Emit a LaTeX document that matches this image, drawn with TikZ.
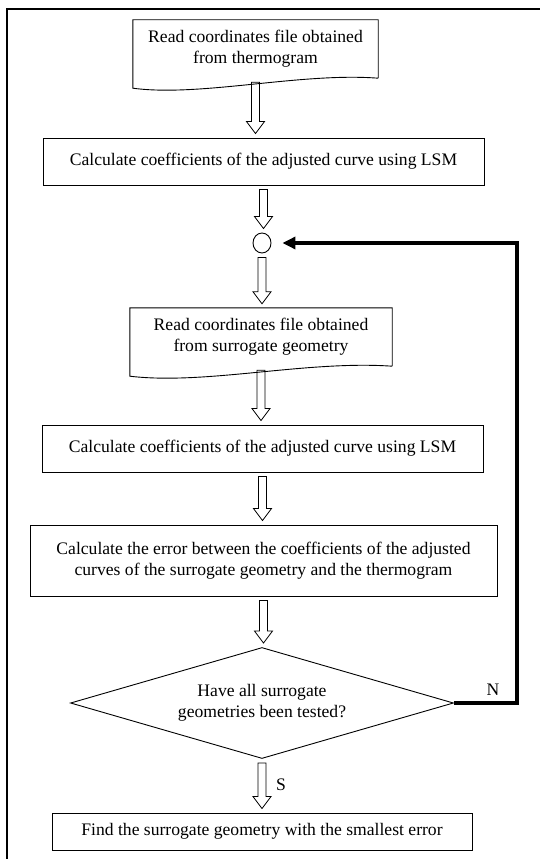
\documentclass[tikz,border=0pt]{standalone}
\usepackage{fontspec}
\setmainfont{Liberation Serif}
\usetikzlibrary{calc, shapes.geometric, arrows.meta}

% outline of a document box with a wavy bottom
\newcommand{\docframe}[1]{%
  \draw[line width=0.9pt] (#1.south east) -- (#1.north east) -- (#1.north west)
    -- ($(#1.south west)+(0,-10pt)$)
    .. controls ($(#1.south)+(-55pt,-19pt)$) and ($(#1.south)+(45pt,6pt)$) .. (#1.south east);}

% hollow block arrow from one node down to the next
\newcommand{\hollowarrow}[2]{%
  \draw[line width=0.8pt] let \p1=($(#1.south)+(0,-4pt)$), \p2=($(#2.north)+(0,4pt)$) in
    (\x1-4pt,\y1) -- (\x1+4pt,\y1) -- (\x1+4pt,\y2+12pt) -- (\x1+9pt,\y2+12pt)
    -- (\x1,\y2) -- (\x1-9pt,\y2+12pt) -- (\x1-4pt,\y2+12pt) -- cycle;}

\begin{document}
\begin{tikzpicture}[x=1pt, y=-1pt, font=\fontsize{17.6}{21}\selectfont,
  box/.style={draw, line width=0.9pt, rectangle, inner sep=0pt, align=center},
  docbox/.style={rectangle, inner sep=0pt, align=center},
  test/.style={draw, line width=0.9pt, diamond, aspect=3.45, inner sep=0pt, align=center,
    minimum width=383pt, minimum height=111pt},
  back/.style={line width=3.2pt, -{Triangle[length=13pt, width=12pt]}, shorten >=11pt}]
  \useasboundingbox (0,0) rectangle (540,859);

  % frame
  \draw[line width=2.6pt] (7,859) -- (7,9) -- (540,9);

  \node[docbox, minimum width=245pt, minimum height=58pt] (read1) at (255.5,49)
    {\raisebox{-3pt}{\begin{tabular}{@{}c@{}}Read coordinates file obtained\\from thermogram\end{tabular}}};
  \docframe{read1}

  \node[box, minimum width=441pt, minimum height=47pt] (calc1) at (263.5,161.5)
    {Calculate coefficients of the adjusted curve using LSM};

  \node[draw, line width=0.9pt, ellipse, minimum width=18pt, minimum height=20pt, inner sep=0pt]
    (junc) at (262,243) {};

  \node[docbox, minimum width=262pt, minimum height=58pt] (read2) at (261,337)
    {Read coordinates file obtained\\from surrogate geometry};
  \docframe{read2}

  \node[box, minimum width=441pt, minimum height=47pt] (calc2) at (262.5,448.5)
    {Calculate coefficients of the adjusted curve using LSM};

  \node[box, minimum width=467pt, minimum height=71pt] (err) at (263.5,560.5)
    {Calculate the error between the coefficients of the adjusted\\curves of the surrogate geometry and the thermogram};

  \node[test] (test) at (262,703) {Have all surrogate\\geometries been tested?};

  \node[box, minimum width=420pt, minimum height=37pt] (find) at (262,831.5)
    {Find the surrogate geometry with the smallest error};

  \hollowarrow{read1}{calc1}
  \hollowarrow{calc1}{junc}
  \hollowarrow{junc}{read2}
  \hollowarrow{read2}{calc2}
  \hollowarrow{calc2}{err}
  \hollowarrow{err}{test}
  \hollowarrow{test}{find}

  % loop back
  \coordinate (loopx) at (517,0);
  \draw[back] (test.east) -- (test.east -| loopx) |- (junc.east);

  \node (nlab) at (493,690) {N};
  \node (slab) at (281,785) {S};
\end{tikzpicture}
\end{document}
